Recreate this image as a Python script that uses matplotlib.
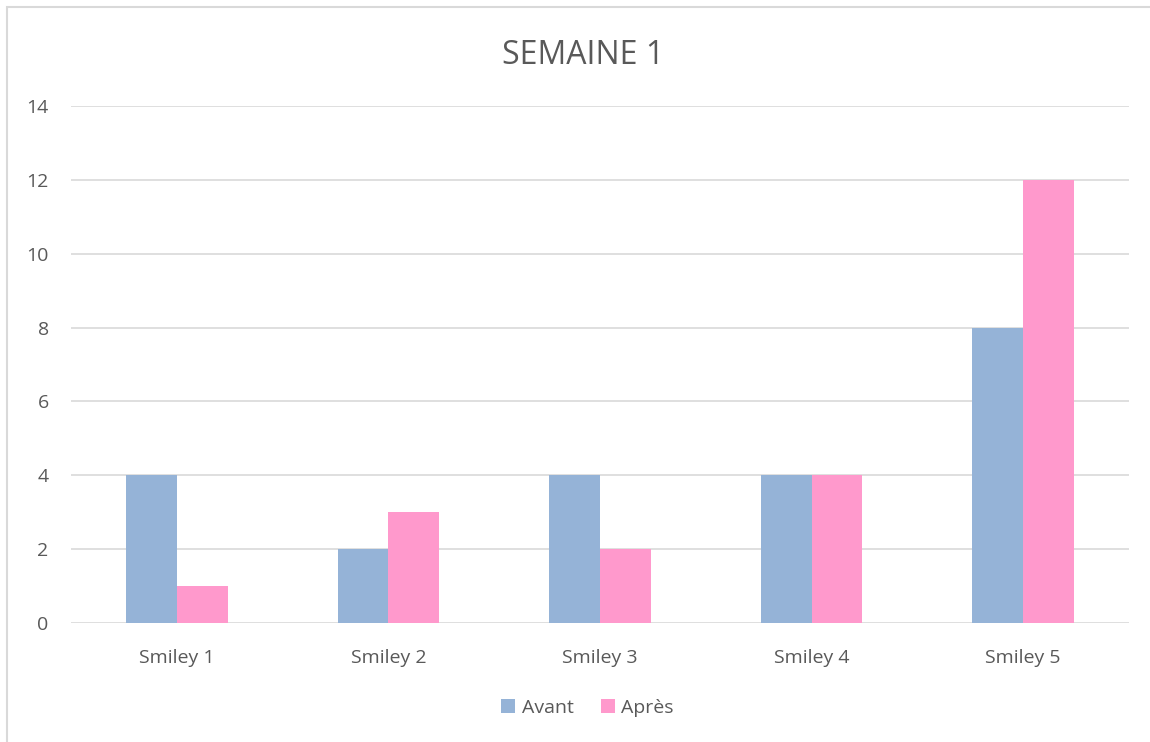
import numpy as np
import matplotlib.pyplot as plt
from matplotlib.patches import Rectangle

#Data
categories = ["Smiley 1", "Smiley 2", "Smiley 3", "Smiley 4", "Smiley 5"]
avant = [4, 2, 4, 4, 8]
apres = [1, 3, 2, 4, 12]

plt.rcParams['font.family'] = ['Open Sans', 'DejaVu Sans']
txt = '#595959'

fig = plt.figure(figsize=(11.5, 7.42), dpi=100)
ax = fig.add_axes([0.0617, 0.1604, 0.92, 0.6967])

#Chart frame
fig.patches.append(Rectangle((7/1150, -0.01), 1.02, 1 - 7/742 + 0.01, transform=fig.transFigure,
                             fill=False, edgecolor='#D9D9D9', linewidth=1.5))

x = np.arange(len(categories))
w = 0.24
ax.bar(x - w/2, avant, w, color='#95B3D7', label='Avant', zorder=3)
ax.bar(x + w/2, apres, w, color='#FF99CC', label='Après', zorder=3)

ax.set_xlim(-0.5, 4.5)
ax.set_ylim(0, 14)
ax.set_yticks(range(0, 15, 2))
ax.set_xticks(x)
ax.set_xticklabels(categories)
ax.yaxis.grid(True, color='#D9D9D9', linewidth=1.2, zorder=0)
for s in ax.spines.values():
    s.set_visible(False)
ax.tick_params(length=0, labelsize=14, colors=txt)
ax.tick_params(axis='y', pad=16)
ax.tick_params(axis='x', pad=19)

fig.text(0.507, 0.925, "SEMAINE 1", ha='center', va='center', fontsize=23, color=txt)

leg = fig.legend(loc='center', bbox_to_anchor=(0.511, 0.046), ncol=2, frameon=False,
                 fontsize=14, handlelength=0.7, handleheight=0.7, columnspacing=1.4,
                 handletextpad=0.35)
for t in leg.get_texts():
    t.set_color(txt)

fig.savefig('out.png', dpi=100)
